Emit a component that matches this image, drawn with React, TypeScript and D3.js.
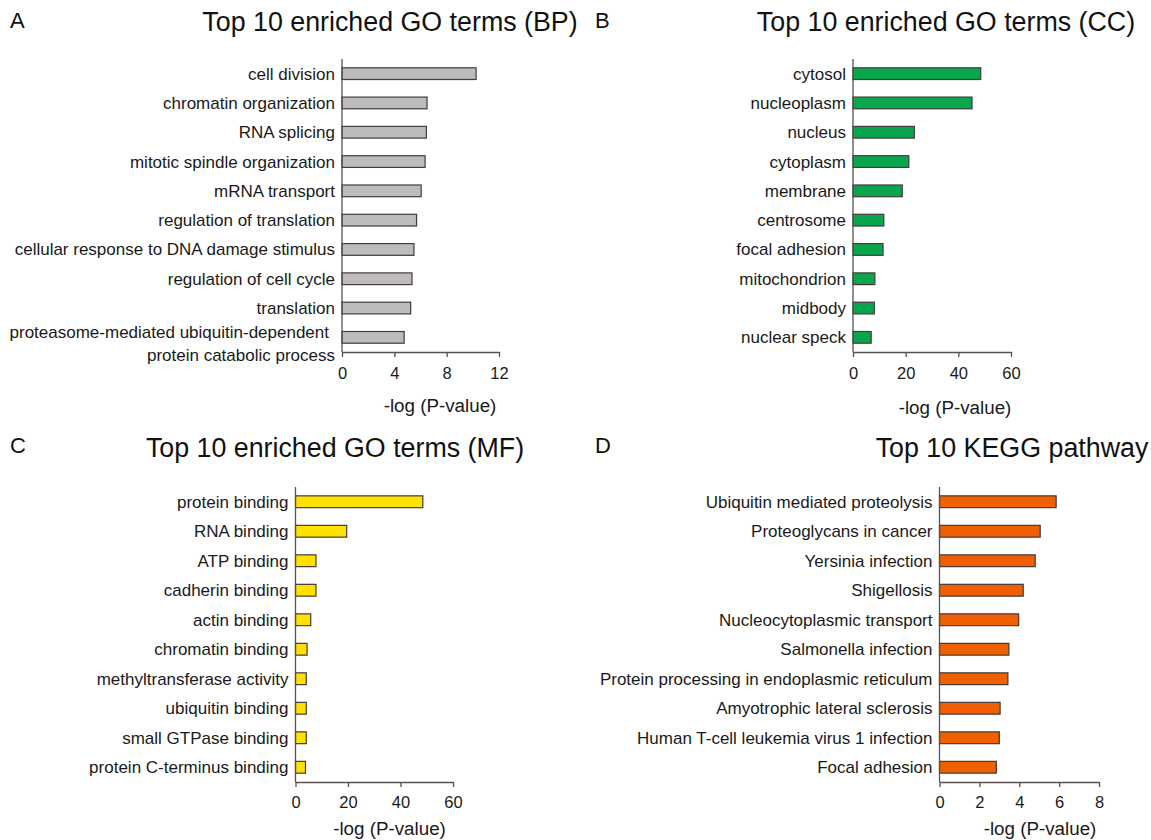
import React, { useRef, useEffect } from "react";
import * as d3 from "d3";

// data
const bpTerms = [
  "cell division",
  "chromatin organization",
  "RNA splicing",
  "mitotic spindle organization",
  "mRNA transport",
  "regulation of translation",
  "cellular response to DNA damage stimulus",
  "regulation of cell cycle",
  "translation",
  "proteasome-mediated ubiquitin-dependent \nprotein catabolic process",
];
const bpValues = [10.25, 6.5, 6.45, 6.35, 6.05, 5.7, 5.5, 5.35, 5.25, 4.75];

const ccTerms = [
  "cytosol",
  "nucleoplasm",
  "nucleus",
  "cytoplasm",
  "membrane",
  "centrosome",
  "focal adhesion",
  "mitochondrion",
  "midbody",
  "nuclear speck",
];
const ccValues = [48.5, 45.2, 23.3, 21.2, 18.7, 11.7, 11.4, 8.3, 8.1, 6.9];

const mfTerms = [
  "protein binding",
  "RNA binding",
  "ATP binding",
  "cadherin binding",
  "actin binding",
  "chromatin binding",
  "methyltransferase activity",
  "ubiquitin binding",
  "small GTPase binding",
  "protein C-terminus binding",
];
const mfValues = [48.5, 19.5, 7.8, 7.8, 5.8, 4.4, 4.1, 4.1, 4.1, 3.8];

const keggTerms = [
  "Ubiquitin mediated proteolysis",
  "Proteoglycans in cancer",
  "Yersinia infection",
  "Shigellosis",
  "Nucleocytoplasmic transport",
  "Salmonella infection",
  "Protein processing in endoplasmic reticulum",
  "Amyotrophic lateral sclerosis",
  "Human T-cell leukemia virus 1 infection",
  "Focal adhesion",
];
const keggValues = [5.85, 5.05, 4.8, 4.2, 3.97, 3.48, 3.43, 3.04, 3.0, 2.85];

const bpTicks = [0, 4, 8, 12];
const ccTicks = [0, 20, 40, 60];
const mfTicks = [0, 20, 40, 60];
const keggTicks = [0, 2, 4, 6, 8];

const FONT = "'Liberation Sans', Arial, Helvetica, sans-serif";
const AXIS = "#5a5050";
const EDGE = "#463a3a";

export default function App() {
  const ref = useRef(null);

  useEffect(() => {
    const svg = d3.select(ref.current);
    svg.selectAll("*").remove();

    const panels = [
      { letter: "A", lx: 10, ly: 28, title: "Top 10 enriched GO terms (BP)", tx: 390, ty: 31,
        terms: bpTerms, values: bpValues, ticks: bpTicks, x0: 342, x1: 499, y0: 59, y1: 352,
        fill: "#bcbcbc", tickPad: 10, axisLabelX: 440, axisLabelY: 412 },
      { letter: "B", lx: 595, ly: 28, title: "Top 10 enriched GO terms (CC)", tx: 946, ty: 31,
        terms: ccTerms, values: ccValues, ticks: ccTicks, x0: 853, x1: 1011, y0: 59, y1: 352,
        fill: "#0aa64e", tickPad: 10, axisLabelX: 955, axisLabelY: 414 },
      { letter: "C", lx: 10, ly: 453, title: "Top 10 enriched GO terms (MF)", tx: 335, ty: 457,
        terms: mfTerms, values: mfValues, ticks: mfTicks, x0: 295.5, x1: 453, y0: 487, y1: 782,
        fill: "#ffe100", tickPad: 9, axisLabelX: 389.5, axisLabelY: 835 },
      { letter: "D", lx: 595, ly: 453, title: "Top 10 KEGG pathway", tx: 1012, ty: 457,
        terms: keggTerms, values: keggValues, ticks: keggTicks, x0: 939.5, x1: 1099, y0: 487, y1: 782,
        fill: "#f06000", tickPad: 9, axisLabelX: 1040, axisLabelY: 835 },
    ];

    panels.forEach((p) => {
      const g = svg.append("g").style("font-family", FONT);

      const x = d3
        .scaleLinear()
        .domain([0, p.ticks[p.ticks.length - 1]])
        .range([p.x0, p.x1]);

      const y = d3
        .scaleBand()
        .domain(p.terms.map((d, i) => i.toString()))
        .range([p.y0, p.y1])
        .paddingInner(0.6)
        .paddingOuter(0.3);

      // panel letter + title
      g.append("text").attr("x", p.lx).attr("y", p.ly).attr("font-size", 22).attr("fill", "#111").text(p.letter);
      g.append("text")
        .attr("x", p.tx)
        .attr("y", p.ty)
        .attr("text-anchor", "middle")
        .attr("font-size", 26.8)
        .attr("fill", "#111")
        .text(p.title);

      // bars
      g.selectAll(".bar")
        .data(p.values)
        .enter()
        .append("rect")
        .attr("x", x(0))
        .attr("y", (d, i) => y(i.toString()))
        .attr("width", (d) => x(d) - x(0))
        .attr("height", y.bandwidth())
        .attr("fill", p.fill)
        .attr("stroke", EDGE)
        .attr("stroke-width", 1.2);

      // category labels
      p.terms.forEach((t, i) => {
        const cy = y(i.toString()) + y.bandwidth() / 2;
        const lines = t.split("\n");
        const txt = g
          .append("text")
          .attr("text-anchor", "end")
          .attr("font-size", 17)
          .attr("fill", "#1a1a1a");
        if (lines.length === 1) {
          txt.attr("x", p.x0 - 7).attr("y", cy + 6).text(t);
        } else {
          txt.append("tspan").attr("x", p.x0 - 13).attr("y", cy + 1).text(lines[0].trim());
          txt.append("tspan").attr("x", p.x0 - 7).attr("y", cy + 24).text(lines[1]);
        }
      });

      // x axis
      const xAxis = g
        .append("g")
        .attr("transform", `translate(0, ${p.y1})`)
        .call(d3.axisBottom(x).tickValues(p.ticks).tickSize(5).tickSizeOuter(0).tickPadding(p.tickPad));
      xAxis.select(".domain").attr("stroke", AXIS).attr("stroke-width", 1.3);
      xAxis.selectAll(".tick line").attr("stroke", AXIS).attr("stroke-width", 1.3);
      xAxis.selectAll(".tick text").attr("font-size", 16.5).attr("font-family", FONT).attr("fill", "#1a1a1a");

      // y axis line (no ticks)
      g.append("line")
        .attr("x1", x(0))
        .attr("x2", x(0))
        .attr("y1", p.y0)
        .attr("y2", p.y1)
        .attr("stroke", AXIS)
        .attr("stroke-width", 1.3);

      // axis label
      g.append("text")
        .attr("x", p.axisLabelX)
        .attr("y", p.axisLabelY)
        .attr("text-anchor", "middle")
        .attr("font-size", 18.8)
        .attr("fill", "#1a1a1a")
        .text("-log (P-value)");
    });
  }, []);

  return (
    <div style={{ position: "absolute", left: 0, top: 0 }}>
      <svg ref={ref} width={1151} height={840} style={{ background: "#fff", display: "block" }}></svg>
    </div>
  );
}
